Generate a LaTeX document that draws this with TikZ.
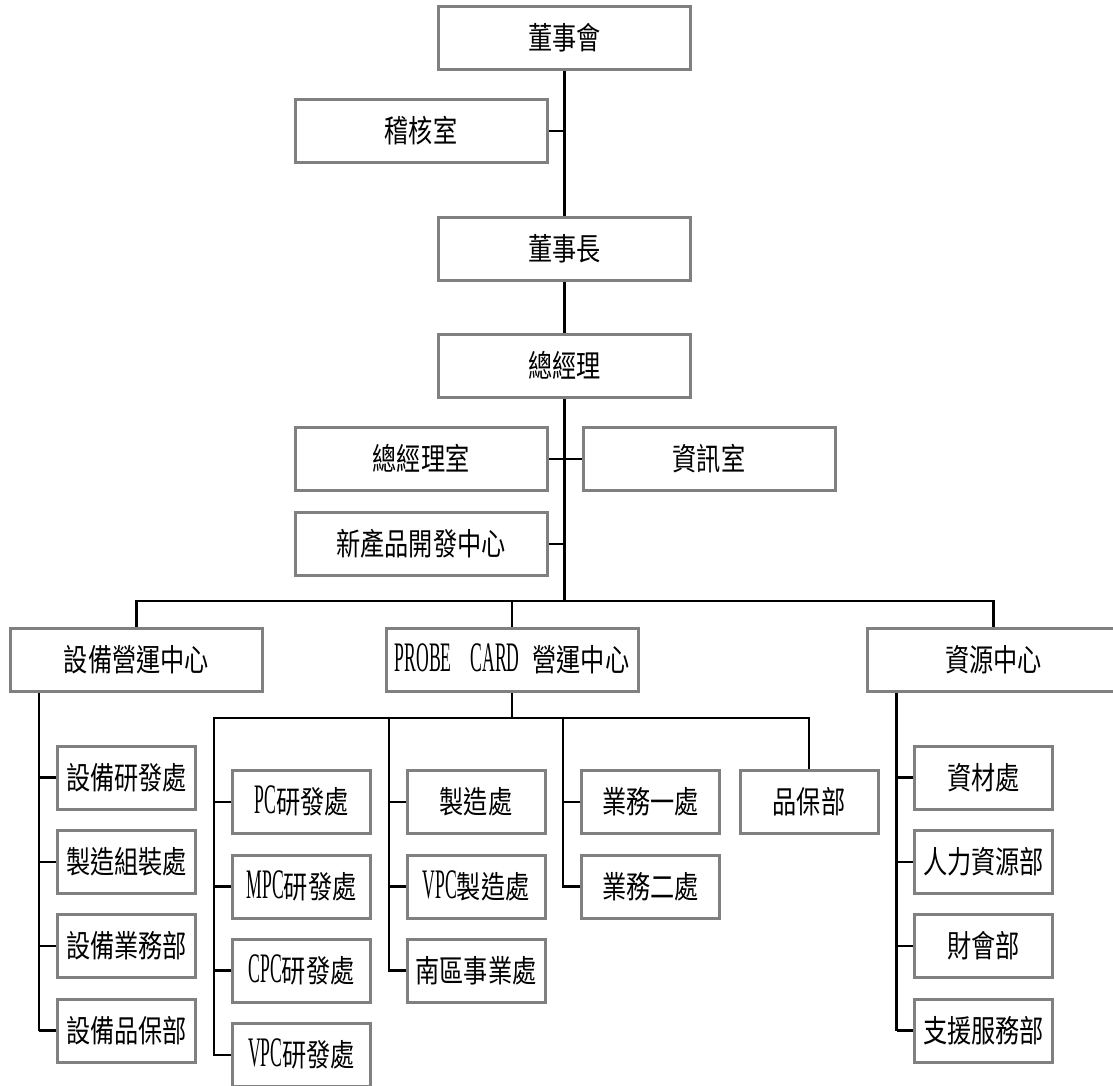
\documentclass[tikz,border=0pt]{standalone}
\usepackage{fontspec}
\setmainfont{Liberation Serif}
\newfontfamily\cjkf[FakeStretch=0.78]{Noto Sans CJK TC}
\newfontfamily\latf[FakeStretch=0.42]{Liberation Serif}
\newcommand\lt[1]{{\latf\fontsize{42}{42}\selectfont #1}}
\usetikzlibrary{backgrounds,calc}
\definecolor{bordergray}{RGB}{128,128,128}
\tikzset{
  orgbox/.style={draw=bordergray, line width=3pt, fill=white, rectangle,
    inner sep=0pt, minimum height=63pt, text height=27.8pt, text depth=4.2pt,
    font=\cjkf\fontsize{31}{31}\selectfont},
  widebox/.style={orgbox, minimum width=252pt},
  smallbox/.style={orgbox, minimum width=138pt},
  conn/.style={draw=black, line width=2.1pt}
}
\begin{document}
\begin{tikzpicture}[x=1pt,y=-1pt]
\useasboundingbox (0,0) rectangle (1113,1086);
\clip (0,0) rectangle (1113,1086);
% top chain
\node[widebox] (dsh) at (564.5,38) {董事會};
\node[widebox] (jh) at (421,131) {稽核室};
\node[widebox] (dsz) at (564.5,249) {董事長};
\node[widebox] (zjl) at (564.5,365.5) {總經理};
\node[widebox] (zjls) at (421,459) {總經理室};
\node[widebox] (zxs) at (709,459) {資訊室};
\node[widebox] (xcp) at (421,544) {新產品開發中心};
% level 2
\node[widebox] (sb) at (136.5,660) {設備營運中心};
\node[widebox] (pc) at (512,660) {\lt{PROBE\hspace{19pt}CARD}\hspace{13pt}營運中心};
\node[widebox] (zy) at (993.5,660) {資源中心};
% column 設備
\node[smallbox] (s1) at (126.5,777.5) {設備研發處};
\node[smallbox] (s2) at (126.5,862) {製造組裝處};
\node[smallbox] (s3) at (126.5,946) {設備業務部};
\node[smallbox] (s4) at (126.5,1030.5) {設備品保部};
% PROBE CARD columns
\node[smallbox] (a1) at (301.5,802) {\lt{PC}研發處};
\node[smallbox] (a2) at (301.5,886.5) {\lt{MPC}研發處};
\node[smallbox] (a3) at (301.5,970.5) {\lt{CPC}研發處};
\node[smallbox] (a4) at (301.5,1055) {\lt{VPC}研發處};
\node[smallbox] (b1) at (476,802) {製造處};
\node[smallbox] (b2) at (476,886.5) {\lt{VPC}製造處};
\node[smallbox] (b3) at (476,970.5) {南區事業處};
\node[smallbox] (c1) at (650.5,802) {業務一處};
\node[smallbox] (c2) at (650.5,886.5) {業務二處};
\node[smallbox] (d1) at (809,802) {品保部};
% column 資源
\node[smallbox] (r1) at (983.5,777.5) {資材處};
\node[smallbox] (r2) at (983.5,862) {人力資源部};
\node[smallbox] (r3) at (983.5,946) {財會部};
\node[smallbox] (r4) at (983.5,1030.5) {支援服務部};
\coordinate (bus) at (564.5,601);
\coordinate (pcbus) at (512,718);
\coordinate (sv) at ($(s4.west)+(-17,0)$);
\coordinate (rv) at ($(r4.west)+(-16.5,0)$);
\begin{scope}[on background layer]
  \draw[conn] (dsh.south) -- (dsz.north);
  \draw[conn] (dsz.south) -- (zjl.north);
  \draw[conn] (zjl.south) -- (bus);
  \draw[conn] (jh.east) -- (jh.east -| dsh.south);
  \draw[conn] (zjls.east) -- (zxs.west);
  \draw[conn] (xcp.east) -- (xcp.east -| zjl.south);
  % main bus
  \draw[conn] (sb.north) |- (bus -| zy.north) -- (zy.north);
  \draw[conn] (pc.north) -- (pc.north |- bus);
  % 設備 column
  \draw[conn] (sv) -- (sv |- sb.south);
  \foreach \n in {s1,s2,s3,s4} \draw[conn] (\n.west) -- (\n.west -| sv);
  % PROBE CARD sub-bus
  \draw[conn] (pc.south) -- (pcbus);
  \draw[conn] (a4.west) -- ++(-17,0) |- (d1.north |- pcbus) -- (d1.north);
  \draw[conn] (b3.west) -- ++(-16.5,0) |- (pcbus);
  \draw[conn] (c2.west) -- ++(-17,0) |- (pcbus);
  \foreach \n in {a1,a2,a3} \draw[conn] (\n.west) -- ++(-17,0);
  \foreach \n in {b1,b2} \draw[conn] (\n.west) -- ++(-16.5,0);
  \draw[conn] (c1.west) -- ++(-17,0);
  % 資源 column
  \draw[conn] (rv) -- (rv |- zy.south);
  \foreach \n in {r1,r2,r3,r4} \draw[conn] (\n.west) -- (\n.west -| rv);
\end{scope}
\end{tikzpicture}
\end{document}
